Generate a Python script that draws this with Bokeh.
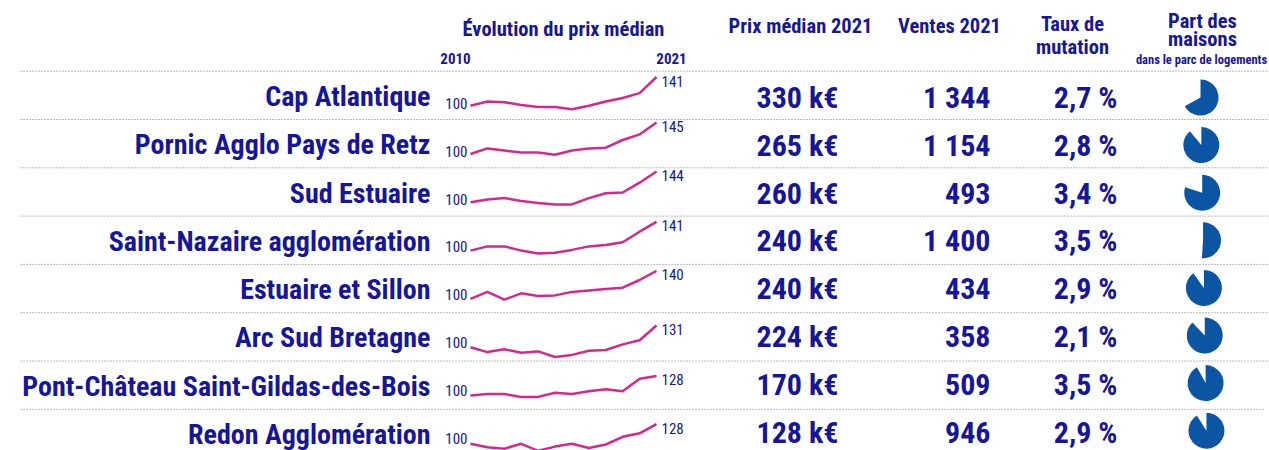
from bokeh.plotting import figure
from bokeh.models import ColumnDataSource, Range1d
from bokeh.core.properties import value
from bokeh.embed import file_html
from bokeh.resources import INLINE
import math

# ---------------- data ----------------
territoires = ["Cap Atlantique", "Pornic Agglo Pays de Retz", "Sud Estuaire",
               "Saint-Nazaire agglomération", "Estuaire et Sillon", "Arc Sud Bretagne",
               "Pont-Château Saint-Gildas-des-Bois", "Redon Agglomération"]
annees = list(range(2010, 2022))
evol_cap = [100, 106, 105, 101, 98, 98, 95, 100, 106, 111, 118, 141]
evol_pornic = [100, 108, 105, 102, 102, 99, 105, 108, 109, 120, 128, 145]
evol_sud = [100, 104, 106, 102, 99, 97, 97, 106, 113, 114, 128, 144]
evol_stnaz = [100, 106, 106, 100, 96, 97, 101, 106, 108, 112, 127, 141]
evol_estsil = [100, 110, 99, 108, 104, 105, 110, 112, 114, 116, 127, 140]
evol_arc = [100, 93, 97, 92, 94, 86, 89, 95, 96, 104, 110, 131]
evol_pont = [100, 102, 102, 98, 98, 104, 102, 106, 109, 106, 124, 128]
evol_redon = [100, 95, 93, 100, 90, 96, 100, 94, 99, 110, 115, 128]
evolutions = [evol_cap, evol_pornic, evol_sud, evol_stnaz, evol_estsil, evol_arc, evol_pont, evol_redon]
prix_median = [330, 265, 260, 240, 240, 224, 170, 128]
ventes = [1344, 1154, 493, 1400, 434, 358, 509, 946]
taux_mutation = [2.7, 2.8, 3.4, 3.5, 2.9, 2.1, 3.5, 2.9]
part_maisons = [0.67, 0.89, 0.80, 0.51, 0.90, 0.88, 0.92, 0.91]

# ---------------- styling / layout ----------------
W, H = 1269, 450
FONT = "Roboto Condensed, DejaVu Sans Condensed, sans-serif"
BLUE_TXT = "#16169a"
MAGENTA = "#d6288c"
PIE = "#0b55a3"
ROW0, ROWH = 70.7, 48.3
SPARK_X0, SPARK_X1 = 470, 656
SPARK_K = 0.70

p = figure(width=W, height=H, x_range=Range1d(0, W), y_range=Range1d(H, 0),
           output_backend="svg", toolbar_location=None, min_border=0)
p.axis.visible = False
p.grid.visible = False
p.outline_line_color = None
p.background_fill_color = "white"
p.border_fill_color = "white"

n = len(territoires)
tops = [ROW0 + i * ROWH for i in range(n)]

# dotted separators
for i, t in enumerate(tops):
    p.line([20, 1269 if i < n - 1 else 1263], [t, t], line_color="#777777",
           line_width=1, line_dash="1 2")

def txt(x, y, s, size, align="center", baseline="middle", bold=True, color=BLUE_TXT):
    p.text(x=[x], y=[y], text=[s], text_font=value(FONT), text_font_size=size,
           text_font_style="bold" if bold else "normal", text_align=align,
           text_baseline=baseline, text_color=color)

# headers
txt(563, 28, "Évolution du prix médian", "20.5px")
txt(455, 58, "2010", "15px")
txt(671, 58, "2021", "15px")
txt(800, 25, "Prix médian 2021", "20.5px")
txt(949, 25, "Ventes 2021", "20.5px")
txt(1072, 23, "Taux de", "20.5px")
txt(1072, 46, "mutation", "20.5px")
txt(1202, 20, "Part des", "20.5px")
txt(1202, 38, "maisons", "20.5px")
txt(1201, 59, "dans le parc de logements", "12.5px")

# rows
mid = [t + 25.2 for t in tops]
src_lbl = ColumnDataSource(dict(x=[430] * n, y=mid, t=territoires))
p.text(x="x", y="y", text="t", source=src_lbl, text_font=value(FONT),
       text_font_size="28px", text_font_style="bold", text_align="right",
       text_baseline="middle", text_color=BLUE_TXT)

midv = [97 + i * 47.8 for i in range(n)]
src_prix = ColumnDataSource(dict(x=[797] * n, y=midv, t=[f"{v} k€" for v in prix_median]))
p.text(x="x", y="y", text="t", source=src_prix, text_font=value(FONT),
       text_font_size="30px", text_font_style="bold", text_align="center",
       text_baseline="middle", text_color=BLUE_TXT)

src_vt = ColumnDataSource(dict(x=[990] * n, y=midv,
                               t=[f"{v:,}".replace(",", " ") for v in ventes]))
p.text(x="x", y="y", text="t", source=src_vt, text_font=value(FONT),
       text_font_size="30px", text_font_style="bold", text_align="right",
       text_baseline="middle", text_color=BLUE_TXT)

src_tx = ColumnDataSource(dict(x=[1117] * n, y=midv,
                               t=[f"{v:.1f}".replace(".", ",") + " %" for v in taux_mutation]))
p.text(x="x", y="y", text="t", source=src_tx, text_font=value(FONT),
       text_font_size="30px", text_font_style="bold", text_align="right",
       text_baseline="middle", text_color=BLUE_TXT)

# sparklines
step = (SPARK_X1 - SPARK_X0) / (len(annees) - 1)
xs, ys = [], []
for i, ev in enumerate(evolutions):
    y0 = tops[i] + 34.5
    xs.append([SPARK_X0 + (a - annees[0]) * step for a in annees])
    ys.append([y0 - (v - 100) * SPARK_K for v in ev])
    txt(SPARK_X0 - 3, 103 + i * 47.8, str(ev[0]), "15px", align="right", bold=False)
    txt(SPARK_X1 + 5, ys[-1][-1] + 4, str(ev[-1]), "15px", align="left", bold=False)
p.multi_line(xs=xs, ys=ys, line_color=MAGENTA, line_width=2.5)

# pies
cx = [1200 + i * 0.85 for i in range(n)]
cy = [97 + i * 47.6 for i in range(n)]
start = [math.pi / 2 - 2 * math.pi * f for f in part_maisons]
end = [math.pi / 2] * n
p.wedge(x=cx, y=cy, radius=18, radius_units="screen",
        start_angle=start, end_angle=end, direction="anticlock",
        fill_color=PIE, line_color=None)

open("out.html", "w").write(file_html(p, INLINE))
